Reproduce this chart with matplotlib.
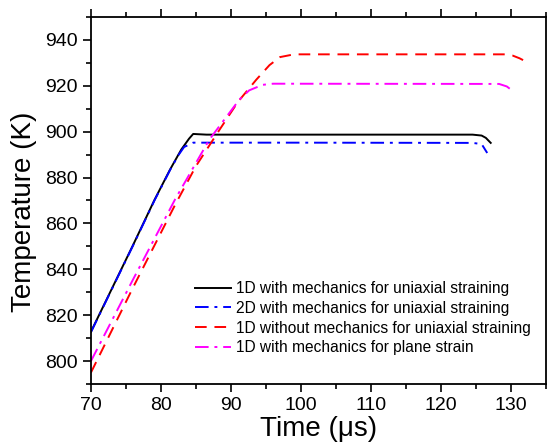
import matplotlib
matplotlib.use('Agg')
import matplotlib.pyplot as plt
import matplotlib.ticker as mticker

plt.rcParams['font.family'] = ['Liberation Sans', 'DejaVu Sans']

# series (time in us, temperature in K)
t_1d_uni = [70, 76, 79.1, 81.3, 82.9, 84.0, 84.6, 85.2, 86.5, 100, 124.5, 125.8, 126.4, 127.1]
T_1d_uni = [812.8, 850.5, 870.4, 883.5, 892.2, 896.9, 899.0, 898.9, 898.7, 898.7, 898.7, 898.3, 897.3, 895.1]

t_2d_uni = [70, 76, 79.1, 81.3, 82.5, 83.3, 84.6, 86, 100, 124.5, 125.8, 126.6]
T_2d_uni = [812.6, 850.3, 870.2, 883.3, 889.8, 893.3, 895.2, 895.2, 895.2, 895.1, 894.6, 890.7]

t_1d_nomech = [70, 76, 82, 85, 88.4, 91, 93.6, 95.5, 97, 99, 129.2, 130.2, 131.2, 132.1]
T_1d_nomech = [795, 832, 868, 885, 901, 913, 922.6, 929, 932.5, 933.7, 933.7, 933.2, 932.0, 930.6]

t_1d_plane = [70, 76, 82, 86.9, 91.2, 92.6, 94.5, 96, 128.3, 129.4, 130.0]
T_1d_plane = [800, 835.5, 870.4, 896.5, 914, 918, 920.4, 920.9, 920.8, 919.7, 918.3]

labels = ['1D with mechanics for uniaxial straining',
          '2D with mechanics for uniaxial straining',
          '1D without mechanics for uniaxial straining',
          '1D with mechanics for plane strain']

fig = plt.figure(figsize=(5.48, 4.46), dpi=100)
ax = fig.add_axes([0.166, 0.139, 0.8304, 0.823])

ax.plot(t_1d_uni, T_1d_uni, color='black', lw=1.4, ls='-', label=labels[0])
ax.plot(t_2d_uni, T_2d_uni, color='#0000ff', lw=1.4, ls=(0, (7, 3, 1.5, 3)), label=labels[1])
ax.plot(t_1d_nomech, T_1d_nomech, color='#ff0000', lw=1.4, ls=(0, (6, 4)), label=labels[2])
ax.plot(t_1d_plane, T_1d_plane, color='#ff00ff', lw=1.4, ls=(0, (7, 3, 1.5, 3)), label=labels[3])

ax.set_xlim(70, 135)
ax.set_ylim(790, 950)
ax.xaxis.set_major_locator(mticker.MultipleLocator(10))
ax.xaxis.set_minor_locator(mticker.MultipleLocator(5))
ax.yaxis.set_major_locator(mticker.MultipleLocator(20))
ax.yaxis.set_minor_locator(mticker.MultipleLocator(10))

ax.tick_params(which='both', direction='out', top=True, right=False, width=1.2, labelsize=14)
ax.tick_params(which='major', length=6)
ax.tick_params(which='minor', length=3.5)
for s in ax.spines.values():
    s.set_linewidth(1.3)

ax.set_xlabel('Time (\u03bcs)', fontsize=20, labelpad=1)
ax.set_ylabel('Temperature (K)', fontsize=20)
ax.yaxis.set_label_coords(-0.118, 0.47)

ax.legend(loc='upper left', bbox_to_anchor=(0.229, 0.28), frameon=False, fontsize=11.2,
          handlelength=2.3, handletextpad=0.35, labelspacing=0.3, borderpad=0, borderaxespad=0)

fig.savefig('out.png', dpi=100)
